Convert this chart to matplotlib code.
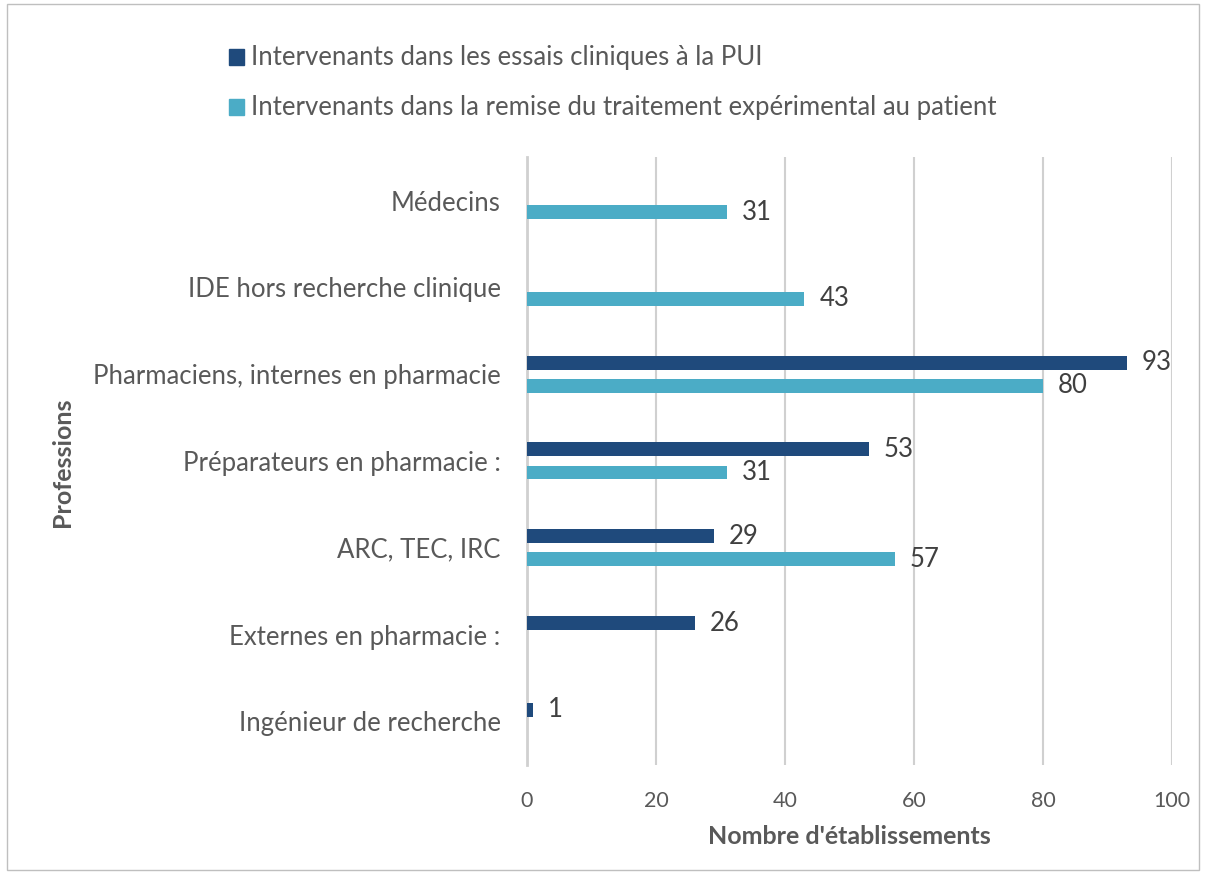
import numpy as np
import matplotlib.pyplot as plt
from matplotlib.patches import Rectangle

plt.rcParams['font.family'] = ['Lato', 'DejaVu Sans']

categories = ["Médecins", "IDE hors recherche clinique", "Pharmaciens, internes en pharmacie",
              "Préparateurs en pharmacie :", "ARC, TEC, IRC", "Externes en pharmacie :",
              "Ingénieur de recherche"]
essais_pui = [np.nan, np.nan, 93, 53, 29, 26, 1]
remise_patient = [31, 43, 80, 31, 57, np.nan, np.nan]
series_names = ["Intervenants dans les essais cliniques à la PUI",
                "Intervenants dans la remise du traitement expérimental au patient"]
colors = ["#1F4A7C", "#4BACC6"]

fig = plt.figure(figsize=(12.06, 8.73), dpi=100)
ax = fig.add_axes([0.437, 0.124, 0.535, 0.696])

y = np.arange(len(categories))
h = 0.16
off = 0.133
for vals, dy, col in [(essais_pui, -off, colors[0]), (remise_patient, off, colors[1])]:
    v = np.array(vals, dtype=float)
    m = ~np.isnan(v)
    ax.barh(y[m] + dy, v[m], height=h, color=col, zorder=3)
    for yy, val in zip(y[m] + dy, v[m]):
        ax.text(val + 2.3, yy, f"{int(val)}", va='center', ha='left',
                fontsize=18.5, color='#404040')

ax.set_xlim(0, 100)
ax.set_ylim(6.5, -0.5)
ax.set_xticks(range(0, 101, 20))
ax.set_yticks(y)
ax.set_yticklabels(categories, fontsize=18.5, color='#595959')
ax.tick_params(axis='x', labelsize=15.5, colors='#595959', length=0, pad=19)
ax.tick_params(axis='y', length=0, pad=19)
ax.grid(axis='x', color='#D0D0D0', linewidth=1.5, zorder=0)
for s in ['top', 'right', 'bottom']:
    ax.spines[s].set_visible(False)
ax.spines['left'].set_color('#D0D0D0')
ax.spines['left'].set_linewidth(2)
ax.set_xlabel("Nombre d'établissements", fontsize=18, fontweight='bold',
              color='#595959', labelpad=10)
fig.text(0.052, 0.47, "Professions", rotation=90, fontsize=18, fontweight='bold',
         color='#595959', ha='center', va='center')

# legend
for i, (name, col) in enumerate(zip(series_names, colors)):
    yy = 1 - (57 + 50 * i) / 873
    fig.patches.append(Rectangle((229 / 1206, yy - 7.5 / 873), 15 / 1206, 15 / 873,
                                 transform=fig.transFigure, color=col))
    fig.text(251 / 1206, yy, name, fontsize=18.5, color='#595959', va='center', ha='left')

fig.patches.append(Rectangle((0.006, 0.003), 0.988, 0.992, transform=fig.transFigure,
                             fill=False, edgecolor='#BFBFBF', linewidth=1))

fig.savefig("out.png", dpi=100)
